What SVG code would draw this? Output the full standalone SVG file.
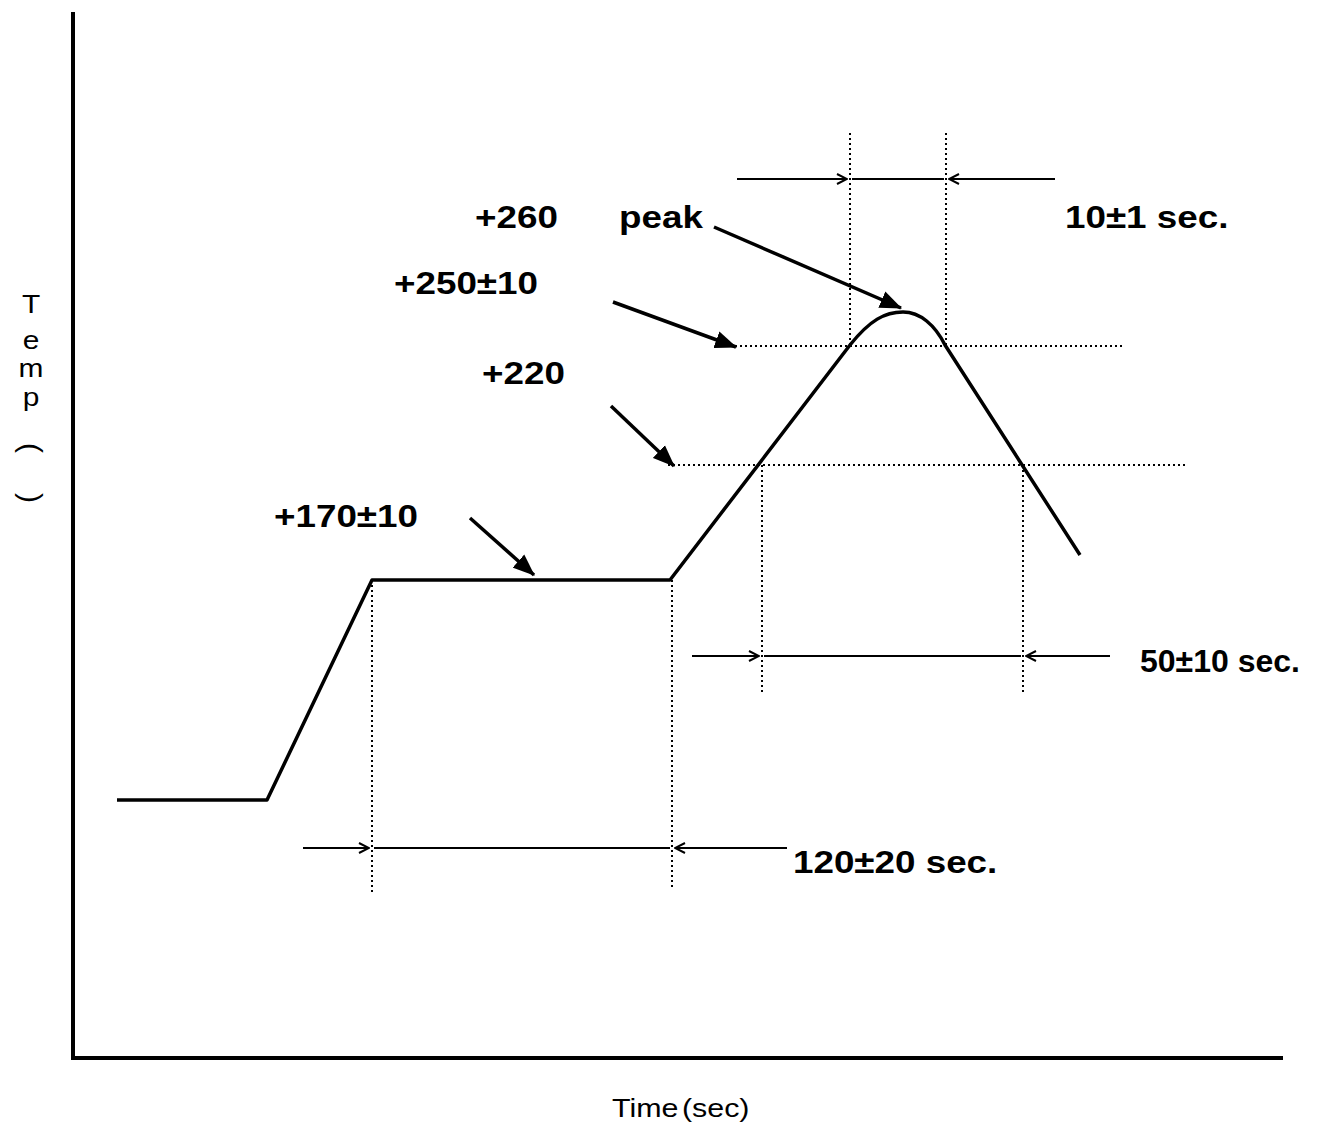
<svg xmlns="http://www.w3.org/2000/svg" width="1330" height="1126" viewBox="0 0 1330 1126">
<style>
.lbl{font-family:"Liberation Sans",Arial,sans-serif;font-weight:bold;font-size:32px;fill:#000}
.ax{font-family:"Liberation Sans",Arial,sans-serif;font-size:26px;fill:#000}
.dot{stroke:#000;stroke-width:2;stroke-dasharray:2 3;fill:none}
.dim{stroke:#000;stroke-width:2;fill:none}
.ptr{stroke:#000;stroke-width:3.5;fill:none}
</style>
<defs>
<marker id="open" viewBox="0 0 12 12" refX="11" refY="6" markerWidth="12" markerHeight="12" markerUnits="userSpaceOnUse" orient="auto">
<path d="M1,1 L11,6 L1,11" fill="none" stroke="#000" stroke-width="2"/>
</marker>
<marker id="fill" viewBox="0 0 20 16" refX="19" refY="8" markerWidth="22" markerHeight="18" markerUnits="userSpaceOnUse" orient="auto">
<path d="M0,0 L20,8 L0,16 Z" fill="#000"/>
</marker>
</defs>
<rect width="1330" height="1126" fill="#fff"/>
<g id="axes">
<line x1="73" y1="12" x2="73" y2="1060" stroke="#000" stroke-width="4"/>
<line x1="71" y1="1058" x2="1283" y2="1058" stroke="#000" stroke-width="4"/>
</g>
<g id="profile">
<path d="M117,800 L267,800 L372,580 L670,580 L850,345 C870,320 885,312 903,312 C920,312 935,325 945,345 L1080,555" fill="none" stroke="#000" stroke-width="3.5" stroke-linejoin="round"/>
</g>
<g id="connectors">
<line class="dot" x1="850" y1="133" x2="850" y2="345"/>
<line class="dot" x1="946" y1="133" x2="946" y2="345"/>
<line class="dot" x1="735" y1="346" x2="1122" y2="346"/>
<line class="dot" x1="668" y1="465" x2="1187" y2="465"/>
<line class="dot" x1="762" y1="465" x2="762" y2="692"/>
<line class="dot" x1="1023" y1="465" x2="1023" y2="692"/>
<line class="dot" x1="372" y1="580" x2="372" y2="892"/>
<line class="dot" x1="672" y1="580" x2="672" y2="887"/>
<line class="dim" x1="737" y1="179" x2="847" y2="179" marker-end="url(#open)"/>
<line class="dim" x1="852" y1="179" x2="944" y2="179"/>
<line class="dim" x1="1055" y1="179" x2="949" y2="179" marker-end="url(#open)"/>
<line class="dim" x1="692" y1="656" x2="759" y2="656" marker-end="url(#open)"/>
<line class="dim" x1="764" y1="656" x2="1021" y2="656"/>
<line class="dim" x1="1110" y1="656" x2="1026" y2="656" marker-end="url(#open)"/>
<line class="dim" x1="303" y1="848" x2="369" y2="848" marker-end="url(#open)"/>
<line class="dim" x1="374" y1="848" x2="670" y2="848"/>
<line class="dim" x1="787" y1="848" x2="675" y2="848" marker-end="url(#open)"/>
<line class="ptr" x1="714" y1="227" x2="901" y2="308" marker-end="url(#fill)"/>
<line class="ptr" x1="613" y1="302" x2="736" y2="347" marker-end="url(#fill)"/>
<line class="ptr" x1="611" y1="406" x2="674" y2="466" marker-end="url(#fill)"/>
<line class="ptr" x1="470" y1="518" x2="534" y2="575" marker-end="url(#fill)"/>
</g>
<g id="labels">
<text class="lbl" transform="translate(475 228) scale(1.15 1)">+260</text>
<text class="lbl" transform="translate(619 228) scale(1.15 1)">peak</text>
<text class="lbl" transform="translate(1065 228) scale(1.15 1)">10±1 sec.</text>
<text class="lbl" transform="translate(394 294) scale(1.15 1)">+250±10</text>
<text class="lbl" transform="translate(482 384) scale(1.15 1)">+220</text>
<text class="lbl" transform="translate(274 527) scale(1.15 1)">+170±10</text>
<text class="lbl" transform="translate(1140 672) scale(1.0 1)">50±10 sec.</text>
<text class="lbl" transform="translate(793 873) scale(1.15 1)">120±20 sec.</text>
</g>
<g id="ylabel" class="ax" text-anchor="middle">
<text transform="translate(31 313) scale(1.15 1)">T</text>
<text transform="translate(31 349) scale(1.15 1)">e</text>
<text transform="translate(31 377) scale(1.15 1)">m</text>
<text transform="translate(31 406) scale(1.15 1)">p</text>
<text x="31" y="448" font-size="30" transform="rotate(90 31 448)" dominant-baseline="central">(</text>
<text x="31" y="498" font-size="30" transform="rotate(90 31 498)" dominant-baseline="central">)</text>
</g>
<g id="xlabel">
<text class="ax" font-size="27" transform="translate(612 1117) scale(1.17 1)">Time<tspan dx="3">(sec)</tspan></text>
</g>
</svg>
